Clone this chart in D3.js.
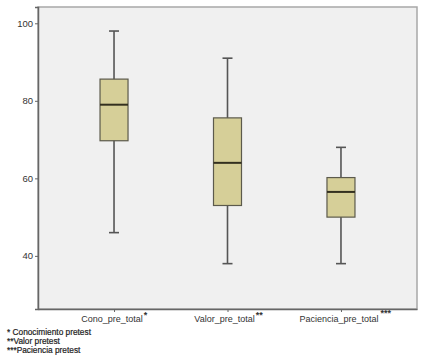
<!DOCTYPE html>
<html>
<head>
<meta charset="utf-8">
<script src="https://cdn.jsdelivr.net/npm/d3@7"></script>
<style>
  body { margin: 0; background: #fff; }
  svg { display: block; font-family: "Liberation Sans", Arial, sans-serif; }
</style>
</head>
<body>
<svg id="chart" width="429" height="364"></svg>
<script>
const categories = ["Cono_pre_total", "Valor_pre_total", "Paciencia_pre_total"];
const marks = ["*", "**", "***"];
const whiskerLow = [46, 38, 38];
const q1 = [69.7, 53, 50];
const median = [79, 64, 56.5];
const q3 = [85.6, 75.6, 60.2];
const whiskerHigh = [98, 91, 68];
const yTicks = [40, 60, 80, 100];
const footnotes = ["* Conocimiento pretest", "**Valor pretest", "***Paciencia pretest"];

const svg = d3.select("#chart");
const frame = { left: 38, right: 417, top: 7, bottom: 309 };

const x = d3.scalePoint()
  .domain(categories)
  .range([frame.left, frame.right])
  .padding(0.67);
const y = d3.scaleLinear()
  .domain([26.3, 104.2])
  .range([frame.bottom, frame.top]);

// plot background + frame
svg.append("rect")
  .attr("x", frame.left)
  .attr("y", frame.top)
  .attr("width", frame.right - frame.left)
  .attr("height", frame.bottom - frame.top)
  .attr("fill", "#f0f0f0")
  .attr("stroke", "#a8a8a8")
  .attr("stroke-width", 1.5);

const boxes = categories.map((c, i) => ({
  c, lo: whiskerLow[i], q1: q1[i], med: median[i], q3: q3[i], hi: whiskerHigh[i]
}));

const boxW = 28;
const capW = 10;
const g = svg.append("g");

boxes.forEach((d) => {
  const cx = x(d.c);
  g.append("line")
    .attr("x1", cx).attr("x2", cx)
    .attr("y1", y(d.hi)).attr("y2", y(d.lo))
    .attr("stroke", "#555").attr("stroke-width", 1.6);
  [d.hi, d.lo].forEach((v) => {
    g.append("line")
      .attr("x1", cx - capW / 2).attr("x2", cx + capW / 2)
      .attr("y1", y(v)).attr("y2", y(v))
      .attr("stroke", "#555").attr("stroke-width", 1.6);
  });
  g.append("rect")
    .attr("x", cx - boxW / 2)
    .attr("y", y(d.q3))
    .attr("width", boxW)
    .attr("height", y(d.q1) - y(d.q3))
    .attr("fill", "#d6cf98")
    .attr("stroke", "#5c5a4c")
    .attr("stroke-width", 1.2);
  g.append("line")
    .attr("x1", cx - boxW / 2).attr("x2", cx + boxW / 2)
    .attr("y1", y(d.med)).attr("y2", y(d.med))
    .attr("stroke", "#33301f").attr("stroke-width", 2);
});

// left axis
const yAxis = svg.append("g")
  .attr("transform", `translate(${frame.left},0)`)
  .call(d3.axisLeft(y).tickValues(yTicks).tickSize(3).tickPadding(2));
yAxis.select(".domain").attr("stroke", "#666").attr("stroke-width", 1.5);
yAxis.selectAll(".tick line").attr("stroke", "#666");
yAxis.selectAll(".tick text").attr("font-size", 9.5).attr("fill", "#333")
  .attr("font-family", "Liberation Sans, Arial, sans-serif");

// bottom axis
const xAxis = svg.append("g")
  .attr("transform", `translate(0,${frame.bottom})`)
  .call(d3.axisBottom(x).tickSize(3).tickSizeOuter(0).tickFormat(""));
xAxis.select(".domain").attr("stroke", "#666").attr("stroke-width", 1.5);
xAxis.selectAll(".tick line").attr("stroke", "#666");

// category labels with superscript marks
const offsets = [-2, -3, -2];
const markDx = [1, 1, 2];
categories.forEach((c, i) => {
  const t = svg.append("text")
    .attr("x", x(c) + offsets[i])
    .attr("y", 322)
    .attr("text-anchor", "middle")
    .attr("font-size", 9)
    .attr("fill", "#333")
    .text(c);
  const bb = t.node().getBBox();
  svg.append("text")
    .attr("x", bb.x + bb.width + markDx[i])
    .attr("y", i === 2 ? 316 : 318)
    .attr("font-size", 9)
    .attr("font-weight", "bold")
    .attr("fill", "#333")
    .text(marks[i]);
});

// footnotes
svg.append("g")
  .selectAll("text")
  .data(footnotes)
  .join("text")
  .attr("x", 7)
  .attr("y", (d, i) => 335 + i * 9)
  .attr("font-size", 8.3)
  .attr("fill", "#222")
  .attr("stroke", "#222")
  .attr("stroke-width", 0.2)
  .text((d) => d);
</script>
</body>
</html>
